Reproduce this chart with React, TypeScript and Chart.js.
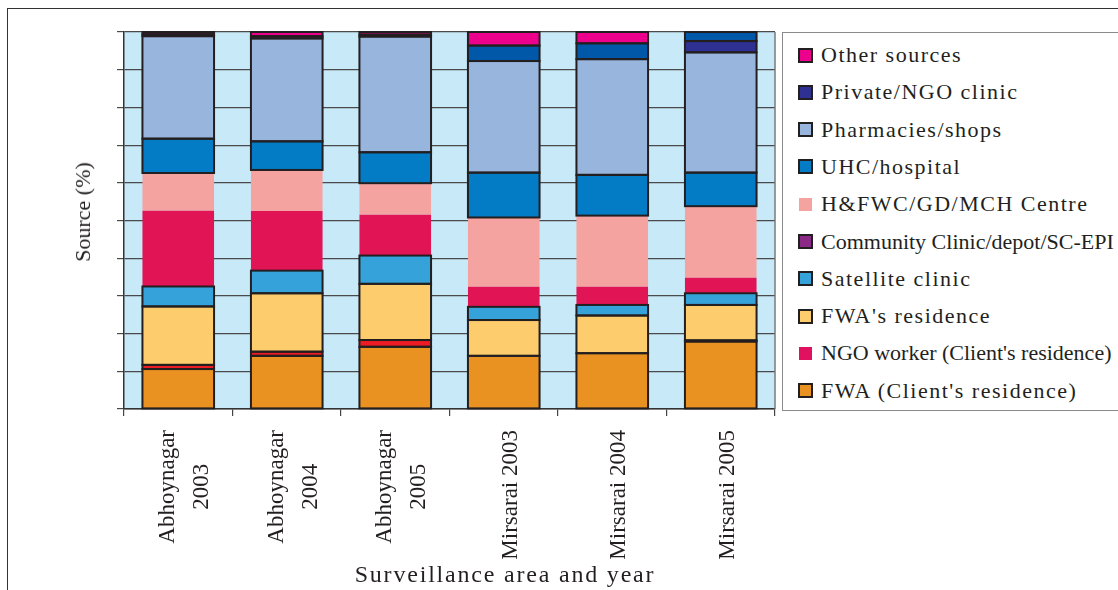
import React, { useEffect, useRef } from 'react';
import { Chart, registerables } from 'chart.js';

Chart.register(...registerables);

// ---------- data ----------
const categories: string[][] = [
  ['Abhoynagar', '2003'],
  ['Abhoynagar', '2004'],
  ['Abhoynagar', '2005'],
  ['Mirsarai 2003'],
  ['Mirsarai 2004'],
  ['Mirsarai 2005'],
];

const fwaClient = [10.6, 14.1, 16.5, 14.1, 14.8, 17.9];
const ngoWorker = [1.1, 1.1, 1.8, 0, 0, 0.3];
const fwaResidence = [15.5, 15.5, 14.9, 9.5, 10.0, 9.4];
const satelliteClinic = [5.3, 6.0, 7.5, 3.5, 2.8, 3.1];
const communityClinic = [20.1, 15.8, 10.8, 5.3, 4.8, 4.1];
const hfwcCentre = [10.0, 10.9, 8.4, 18.4, 18.9, 19.0];
const uhcHospital = [9.1, 7.6, 8.2, 11.9, 10.8, 8.9];
const pharmacies = [27.2, 27.3, 30.7, 29.6, 30.7, 31.9];
const privateNgo = [0.5, 0.6, 0.5, 0, 0, 3.0];
const unlabelledBlue = [0, 0, 0, 4.1, 4.2, 2.4];
const otherSources = [0.6, 1.1, 0.7, 3.6, 3.0, 0];

const seriesNames = [
  'FWA (Client\'s residence)',
  'NGO worker (Client\'s residence)',
  'FWA\'s residence',
  'Satellite clinic',
  'Community Clinic/depot/SC-EPI',
  'H&FWC/GD/MCH Centre',
  'UHC/hospital',
  'Pharmacies/shops',
  'Private/NGO clinic',
  '',
  'Other sources',
];
const seriesValues = [
  fwaClient, ngoWorker, fwaResidence, satelliteClinic, communityClinic,
  hfwcCentre, uhcHospital, pharmacies, privateNgo, unlabelledBlue, otherSources,
];

const yMin = 0;
const yMax = 100;
const yStep = 10;

// ---------- styles ----------
const barColors = [
  '#E99222', '#ED1C24', '#FDCC6C', '#35A3DA', '#E11456',
  '#F5A3A1', '#037BC5', '#97B5DD', '#2E3192', '#0158A8', '#EC008C',
];
const barBordered = [true, true, true, true, false, false, true, true, true, true, true];

// legend (top to bottom)
const legendOrder = [10, 8, 7, 6, 5, 4, 3, 2, 1, 0];
const legendColors: Record<number, string> = {
  10: '#EC008C', 8: '#2E3192', 7: '#97B5DD', 6: '#037BC5', 5: '#F5A3A1',
  4: '#8B2A86', 3: '#35A3DA', 2: '#FDCC6C', 1: '#E0115F', 0: '#E99222',
};
const legendBordered: Record<number, boolean> = {
  10: true, 8: true, 7: true, 6: true, 5: false, 4: true, 3: true, 2: true, 1: false, 0: true,
};

const INK = '#231F20';
const SERIF = '"Liberation Serif", "Times New Roman", serif';

const plotBgPlugin = {
  id: 'plotBg',
  beforeDraw(chart: any) {
    const { ctx, chartArea } = chart;
    ctx.save();
    ctx.fillStyle = '#C8E9F8';
    ctx.fillRect(chartArea.left, chartArea.top, chartArea.right - chartArea.left, chartArea.bottom - chartArea.top);
    ctx.restore();
  },
  beforeDatasetsDraw(chart: any) {
    const { ctx, chartArea } = chart;
    ctx.save();
    ctx.strokeStyle = '#7a7a7a';
    ctx.lineWidth = 1.5;
    ctx.beginPath();
    ctx.moveTo(chartArea.right, chartArea.top);
    ctx.lineTo(chartArea.right, chartArea.bottom);
    ctx.stroke();
    ctx.restore();
  },
};

// centred outlines around the bordered segments (edges shared by neighbours)
const segmentOutlinePlugin = {
  id: 'segmentOutline',
  afterDatasetsDraw(chart: any) {
    const { ctx } = chart;
    ctx.save();
    ctx.strokeStyle = INK;
    ctx.lineWidth = 2;
    chart.data.datasets.forEach((_ds: any, k: number) => {
      if (!barBordered[k]) return;
      const meta = chart.getDatasetMeta(k);
      meta.data.forEach((el: any) => {
        const { x, y, base, width } = el.getProps(['x', 'y', 'base', 'width'], true);
        const h = base - y;
        if (Math.abs(h) < 0.01) return;
        ctx.strokeRect(x - width / 2, Math.min(y, base), width, Math.abs(h));
      });
    });
    ctx.restore();
  },
};

const xLabelPlugin = {
  id: 'xLabels',
  afterDraw(chart: any) {
    const { ctx, chartArea } = chart;
    const xs = chart.scales.x;
    ctx.save();
    ctx.font = `23px ${SERIF}`;
    ctx.fillStyle = INK;
    ctx.textAlign = 'center';
    ctx.textBaseline = 'alphabetic';
    categories.forEach((lines, i) => {
      const c = xs.getPixelForValue(i);
      const maxW = Math.max(...lines.map((l) => ctx.measureText(l).width));
      const cy = chartArea.bottom + 21 + maxW / 2;
      lines.forEach((line, j) => {
        const bx = c + 13 + (j - (lines.length - 1) / 2) * 34;
        ctx.save();
        ctx.translate(bx, cy);
        ctx.rotate(-Math.PI / 2);
        ctx.fillText(line, 0, 0);
        ctx.restore();
      });
    });
    ctx.restore();
  },
};

function StackedChart() {
  const ref = useRef<HTMLCanvasElement | null>(null);
  useEffect(() => {
    if (!ref.current) return;
    const chart = new Chart(ref.current, {
      type: 'bar',
      data: {
        labels: categories,
        datasets: seriesValues.map((vals, k) => ({
          label: seriesNames[k],
          data: vals,
          backgroundColor: barColors[k],
          borderWidth: 0,
          barPercentage: 0.66,
          categoryPercentage: 1.0,
        })),
      },
      options: {
        animation: false,
        responsive: false,
        devicePixelRatio: 1,
        layout: { padding: { left: 117, top: 32, right: 3, bottom: 174 } },
        plugins: {
          legend: { display: false },
          tooltip: { enabled: false },
          title: { display: false },
        },
        scales: {
          x: {
            stacked: true,
            ticks: { display: false },
            grid: {
              offset: true,
              drawOnChartArea: false,
              drawTicks: true,
              tickLength: 7,
              color: '#444444',
              lineWidth: 1.2,
            },
            border: { display: true, color: '#333333', width: 1.5 },
          },
          y: {
            stacked: true,
            min: yMin,
            max: yMax,
            ticks: { display: false, stepSize: yStep },
            grid: { color: '#4a4a4a', lineWidth: 1.2, drawTicks: true, tickLength: 7 },
            border: { display: true, color: '#333333', width: 1.5 },
          },
        },
      },
      plugins: [plotBgPlugin, segmentOutlinePlugin, xLabelPlugin],
    } as any);
    return () => chart.destroy();
  }, []);
  return (
    <canvas
      ref={ref}
      width={778}
      height={590}
      style={{ position: 'absolute', left: 0, top: 0, width: 778, height: 590 }}
    />
  );
}

export default function App() {
  return (
    <div
      style={{
        position: 'absolute', left: 0, top: 0, width: 1118, height: 590,
        overflow: 'hidden', background: '#ffffff', fontFamily: SERIF, color: INK,
      }}
    >
      <div
        style={{
          position: 'absolute', left: 7, top: 8, width: 1300, height: 800,
          borderTop: '1.5px solid #333', borderLeft: '1.5px solid #333',
        }}
      />
      <StackedChart />
      <div
        style={{
          position: 'absolute', left: 82.5, top: 212, fontSize: 22, lineHeight: '26px',
          whiteSpace: 'nowrap', transform: 'translate(-50%, -50%) rotate(-90deg)',
        }}
      >
        Source (%)
      </div>
      <div
        style={{
          position: 'absolute', left: 505, top: 573.5, fontSize: 24, lineHeight: '28px',
          letterSpacing: '1.8px', whiteSpace: 'nowrap', transform: 'translate(-50%, -50%)',
        }}
      >
        Surveillance area and year
      </div>
      <div
        style={{
          position: 'absolute', left: 782, top: 32, width: 400, height: 379,
          border: '1.5px solid #8a8a8a', boxSizing: 'border-box',
        }}
      />
      {legendOrder.map((k, i) => {
        const name = seriesNames[k];
        const long = name.length > 26;
        return (
          <div
            key={k}
            style={{
              position: 'absolute', left: 798, top: 55 + i * 37.3 - 15, height: 30,
              display: 'flex', alignItems: 'center', whiteSpace: 'nowrap',
            }}
          >
            <div
              style={{
                width: legendBordered[k] ? 15 : 13,
                height: legendBordered[k] ? 15 : 13,
                margin: legendBordered[k] ? 0 : 1,
                boxSizing: 'border-box',
                background: legendColors[k],
                border: legendBordered[k] ? `2px solid ${INK}` : 'none',
              }}
            />
            <span
              style={{
                marginLeft: 8, fontSize: 22, lineHeight: '30px',
                letterSpacing: long ? '0px' : '1.5px',
              }}
            >
              {name}
            </span>
          </div>
        );
      })}
    </div>
  );
}
